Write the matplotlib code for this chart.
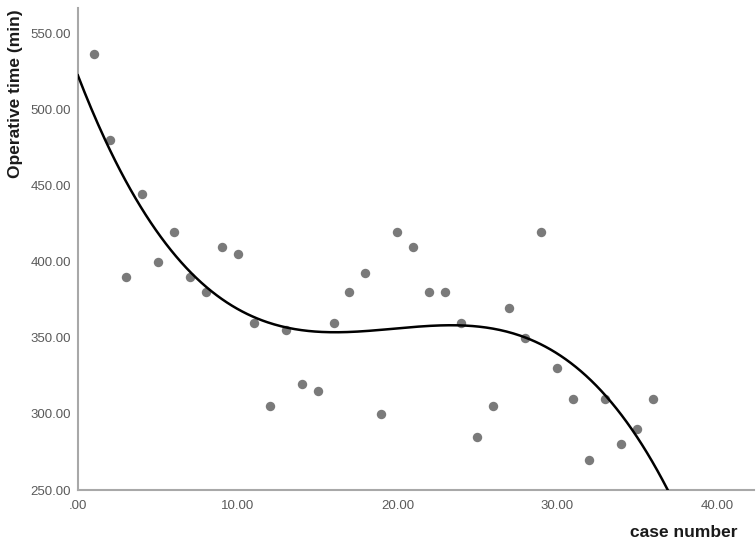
import numpy as np
import matplotlib
matplotlib.use("Agg")
import matplotlib.pyplot as plt

plt.rcParams['font.family'] = ['Liberation Sans', 'DejaVu Sans']

# Datos
case_number = list(range(1, 37))
operative_time = [537, 480, 390, 445, 400, 420, 390, 380, 410, 405,
                  360, 305, 355, 320, 315, 360, 380, 393, 300, 420,
                  410, 380, 380, 360, 285, 305, 370, 350, 420, 330,
                  310, 270, 310, 280, 290, 310]
x_ticks = [0, 10, 20, 30, 40]
x_tick_labels = [".00", "10.00", "20.00", "30.00", "40.00"]
y_ticks = [250, 300, 350, 400, 450, 500, 550]
y_tick_labels = ["250.00", "300.00", "350.00", "400.00", "450.00", "500.00", "550.00"]

# Ajuste cubico
coef = np.polyfit(case_number, operative_time, 3)
xs = np.linspace(0, 42.3, 400)
ys = np.polyval(coef, xs)

fig = plt.figure(figsize=(7.56, 5.54), dpi=100)
ax = fig.add_axes([0.103, 0.1155, 0.894, 0.870])

ax.scatter(case_number, operative_time, s=46, color="#7a7a7a", zorder=3, linewidths=0)
ax.plot(xs, ys, color="black", lw=1.8, zorder=4)

ax.set_xlim(0, 42.3)
ax.set_ylim(250, 567)
ax.set_xticks(x_ticks)
ax.set_xticklabels(x_tick_labels)
ax.set_yticks(y_ticks)
ax.set_yticklabels(y_tick_labels)
ax.tick_params(length=0, labelsize=9.5, colors="#5a5a5a")
ax.tick_params(axis="x", pad=7)
ax.tick_params(axis="y", pad=5)

for s in ["top", "right"]:
    ax.spines[s].set_visible(False)
for s in ["left", "bottom"]:
    ax.spines[s].set_color("#a8a8a8")
    ax.spines[s].set_linewidth(1.5)

fig.text(0.02, 0.83, "Operative time (min)", rotation=90, ha="center", va="center",
         fontsize=12.5, fontweight="bold", color="#1a1a1a")
fig.text(0.975, 0.025, "case number", ha="right", va="bottom",
         fontsize=12.5, fontweight="bold", color="#1a1a1a")

fig.savefig("out.png", dpi=100)
